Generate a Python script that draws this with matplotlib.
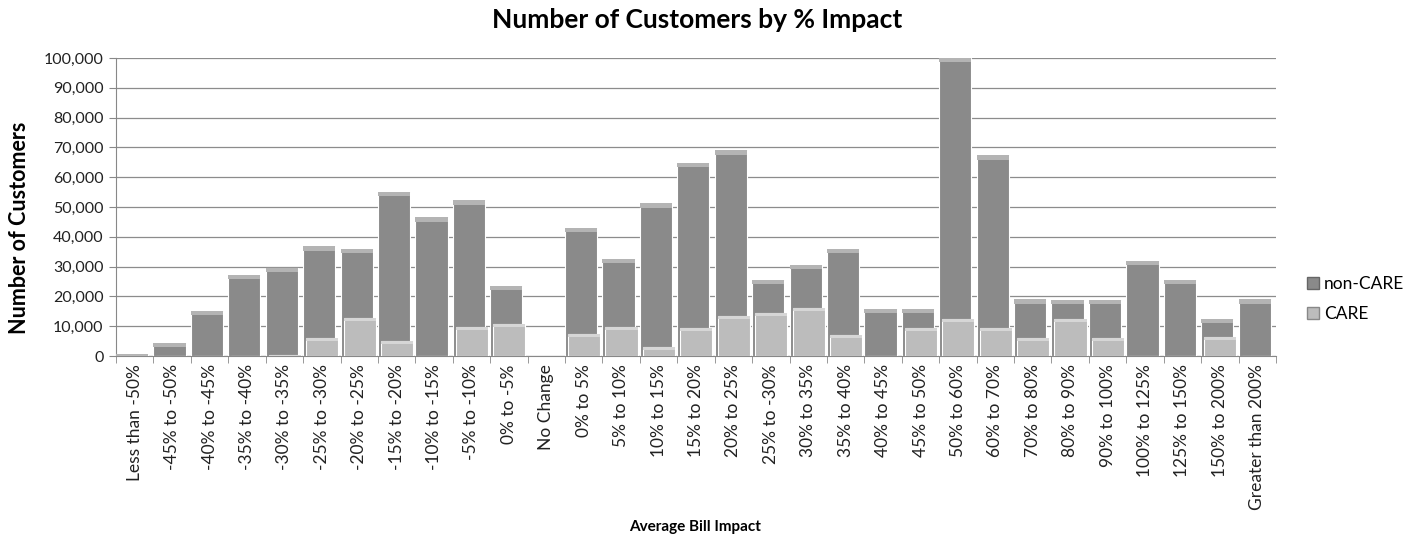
import matplotlib
matplotlib.use("Agg")
import matplotlib.pyplot as plt
import numpy as np
from matplotlib.patches import Patch
from matplotlib.ticker import FuncFormatter, MultipleLocator

categories = ["Less than -50%", "-45% to -50%", "-40% to -45%", "-35% to -40%",
              "-30% to -35%", "-25% to -30%", "-20% to -25%", "-15% to -20%",
              "-10% to -15%", "-5% to -10%", "0% to -5%", "No Change",
              "0% to 5%", "5% to 10%", "10% to 15%", "15% to 20%", "20% to 25%",
              "25% to -30%", "30% to 35%", "35% to 40%", "40% to 45%", "45% to 50%",
              "50% to 60%", "60% to 70%", "70% to 80%", "80% to 90%", "90% to 100%",
              "100% to 125%", "125% to 150%", "150% to 200%", "Greater than 200%"]

non_care = [800, 4500, 15000, 27200, 29500, 36800, 36000, 55000, 46500, 52200,
            23500, 0, 43000, 32700, 51200, 64800, 69000, 25500, 30700, 36000,
            15900, 15900, 101000, 67300, 19000, 18800, 18800, 31800, 25500, 12500, 19000]
care = [0, 0, 0, 0, 500, 6000, 12800, 5000, 0, 9800,
        10600, 0, 7300, 9800, 3100, 9500, 13400, 14300, 16100, 7000,
        0, 9500, 12300, 9500, 6100, 12300, 6100, 0, 0, 6400, 0]

plt.rcParams['font.family'] = ['Lato', 'DejaVu Sans']

fig = plt.figure(figsize=(14.08, 5.43), dpi=100)
ax = fig.add_axes([116/1408, 1-356/543, (1276-116)/1408, (356-58)/543])

x = np.arange(len(categories))
nc = np.array(non_care, dtype=float)
ca = np.array(care, dtype=float)
w = 0.86
ymax = 100000
cap = 1400

nc_col = "#8a8a8a"
nc_cap = "#b4b4b4"
ca_col = "#bcbcbc"
ca_cap = "#d6d6d6"

ncc = np.minimum(nc, ymax)
ax.bar(x - 0.5, ncc, width=w, align="edge", color=nc_col, edgecolor="white",
       linewidth=0.8, zorder=3)
mask = nc > 0
ax.bar((x - 0.5)[mask], np.full(mask.sum(), cap), bottom=ncc[mask] - cap, width=w,
       align="edge", color=nc_cap, edgecolor="none", zorder=3.5)
ax.bar(x - 0.5 + 0.08, ca, width=w, align="edge", color=ca_col, edgecolor="white",
       linewidth=0.8, zorder=4)
m2 = ca > 0
ax.bar((x - 0.5 + 0.08)[m2], np.full(m2.sum(), 1000), bottom=ca[m2] - 1000,
       width=w, align="edge", color=ca_cap, edgecolor="none", zorder=4.5)

ax.set_xlim(-0.5, len(categories) - 0.5)
ax.set_ylim(0, ymax)
ax.yaxis.set_major_locator(MultipleLocator(10000))
ax.yaxis.set_major_formatter(FuncFormatter(lambda v, p: f"{int(v):,}"))
ax.grid(axis="y", color="#8c8c8c", linewidth=0.9, zorder=0)
ax.set_axisbelow(True)

ax.set_xticks(x)
ax.set_xticklabels(categories, rotation=90, fontsize=12.5, color="#222222")
ax.set_xticks(np.arange(len(categories) + 1) - 0.5, minor=True)
ax.tick_params(axis="x", which="major", length=0, pad=6)
ax.tick_params(axis="x", which="minor", length=5, color="#888888")
ax.tick_params(axis="y", length=5, color="#888888", labelsize=11.5, labelcolor="#222222", pad=4)

for s in ["top", "right"]:
    ax.spines[s].set_visible(False)
ax.spines["left"].set_color("#888888")
ax.spines["bottom"].set_color("#888888")

fig.text(20/1408, 1-228/543, "Number of Customers", rotation=90, ha="center", va="center",
         fontsize=15.5, fontweight="bold")
fig.text(697/1408, 1-20/543, "Number of Customers by % Impact", ha="center", va="center",
         fontsize=19, fontweight="bold")
fig.text(695/1408, 1-527/543, "Average Bill Impact", ha="center", va="center",
         fontsize=11, fontweight="bold")

handles = [Patch(facecolor=nc_col, edgecolor="#666666", label="non-CARE"),
           Patch(facecolor=ca_col, edgecolor="#888888", label="CARE")]
fig.legend(handles=handles, loc="center left", bbox_to_anchor=(1291/1408, 1-299/543),
           frameon=False, fontsize=12.5, handlelength=0.7, handleheight=0.7,
           handletextpad=0.3, labelspacing=0.8)

fig.savefig("out.png", dpi=100)
